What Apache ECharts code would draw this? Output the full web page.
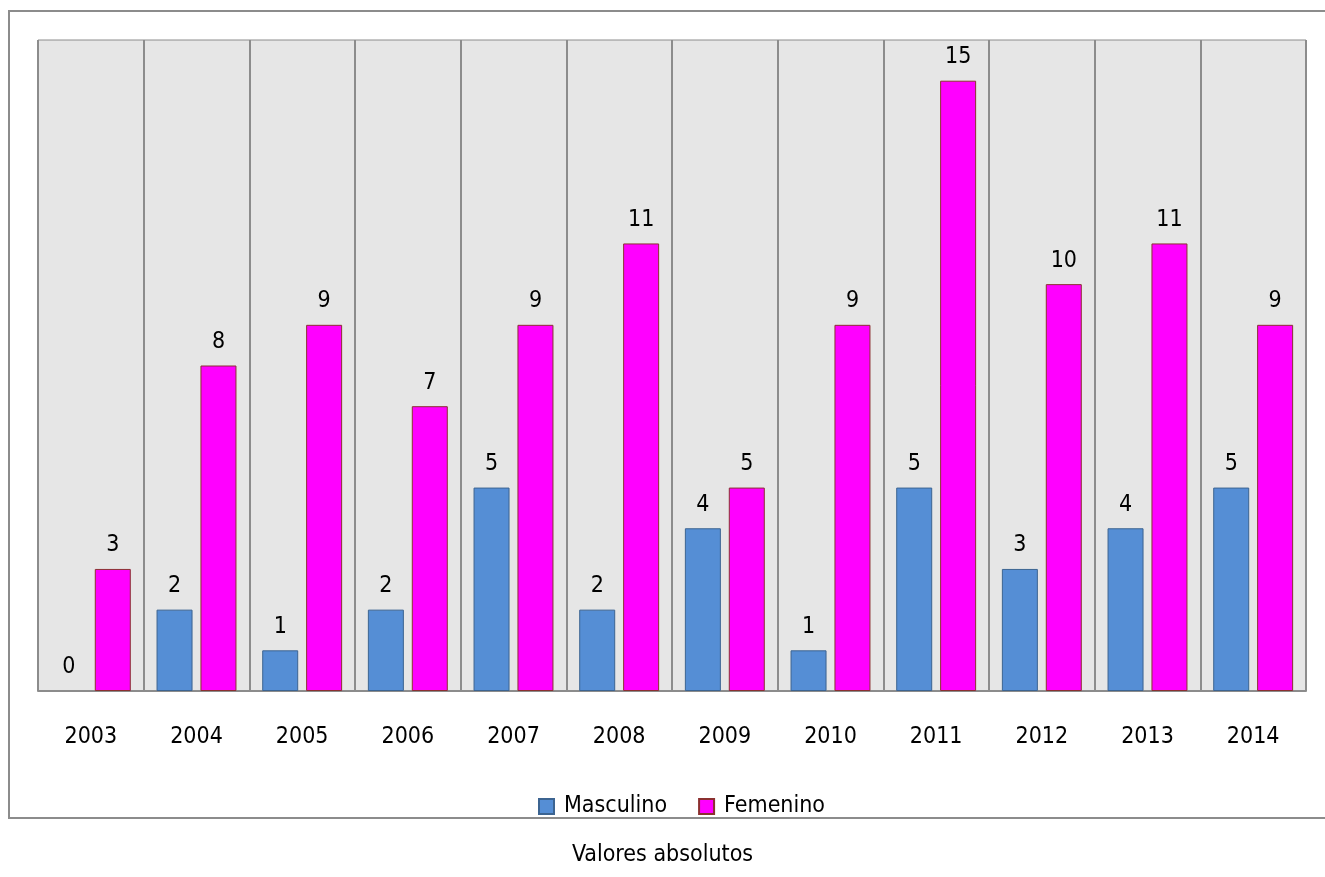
<!DOCTYPE html>
<html>
<head>
<meta charset="utf-8">
<script src="https://cdn.jsdelivr.net/npm/echarts@6/dist/echarts.min.js"></script>
<style>
  html, body { margin: 0; padding: 0; background: #fff; }
  #chart { width: 1325px; height: 877px; }
</style>
</head>
<body>
<div id="chart"></div>
<script>
const years = ['2003', '2004', '2005', '2006', '2007', '2008', '2009', '2010', '2011', '2012', '2013', '2014'];
const masculino = [0, 2, 1, 2, 5, 2, 4, 1, 5, 3, 4, 5];
const femenino = [3, 8, 9, 7, 9, 11, 5, 9, 15, 10, 11, 9];
const seriesNames = ['Masculino', 'Femenino'];
const footnote = 'Valores absolutos';

const font = 'DejaVu Sans Condensed';
const fs = 23;

const myChart = echarts.init(document.getElementById('chart'));

const labelStyle = {
  show: true,
  position: 'top',
  distance: 12,
  color: '#000',
  fontFamily: font,
  fontSize: fs,
};

// zero-height bars get no outline, like the original
const noZeroEdge = (arr) => arr.map((v) => (v === 0 ? { value: v, itemStyle: { borderWidth: 0 } } : v));

const option = {
  animation: false,
  backgroundColor: '#fff',
  textStyle: { fontFamily: font },
  graphic: [
    {
      type: 'rect',
      shape: { x: 9, y: 11, width: 1330, height: 807 },
      style: { fill: 'none', stroke: '#8c8c8c', lineWidth: 2 },
      z: 0,
    },
    {
      type: 'text',
      left: 'center',
      top: 844,
      style: { text: footnote, fill: '#000', font: fs + 'px "' + font + '"' },
    },
  ],
  legend: {
    data: seriesNames,
    top: 790,
    left: 533,
    icon: 'rect',
    itemWidth: 15,
    itemHeight: 15,
    itemGap: 31,
    textStyle: { fontFamily: font, fontSize: fs, color: '#000', padding: [0, 0, 0, 5] },
  },
  grid: {
    left: 38,
    right: 19,
    top: 40,
    bottom: 186,
    show: true,
    backgroundColor: '#e6e6e6',
    borderColor: '#8c8c8c',
    borderWidth: 1,
  },
  xAxis: {
    type: 'category',
    data: years,
    axisLine: { lineStyle: { color: '#8c8c8c', width: 2 } },
    axisTick: { show: false },
    axisLabel: { color: '#000', fontFamily: font, fontSize: fs, margin: 35 },
    splitLine: { show: true, interval: 0, lineStyle: { color: '#8c8c8c', width: 2 } },
  },
  yAxis: {
    type: 'value',
    min: 0,
    max: 16,
    show: false,
    splitLine: { show: false },
  },
  series: [
    {
      name: seriesNames[0],
      type: 'bar',
      data: noZeroEdge(masculino),
      barWidth: 36,
      barGap: '22%',
      itemStyle: { color: '#558ed5', borderColor: '#3c6491', borderWidth: 1 },
      label: labelStyle,
    },
    {
      name: seriesNames[1],
      type: 'bar',
      data: noZeroEdge(femenino),
      barWidth: 36,
      barGap: '22%',
      itemStyle: { color: '#ff00ff', borderColor: '#8b3030', borderWidth: 1 },
      label: labelStyle,
    },
  ],
};

myChart.setOption(option);
window.addEventListener('resize', () => myChart.resize());
</script>
</body>
</html>
